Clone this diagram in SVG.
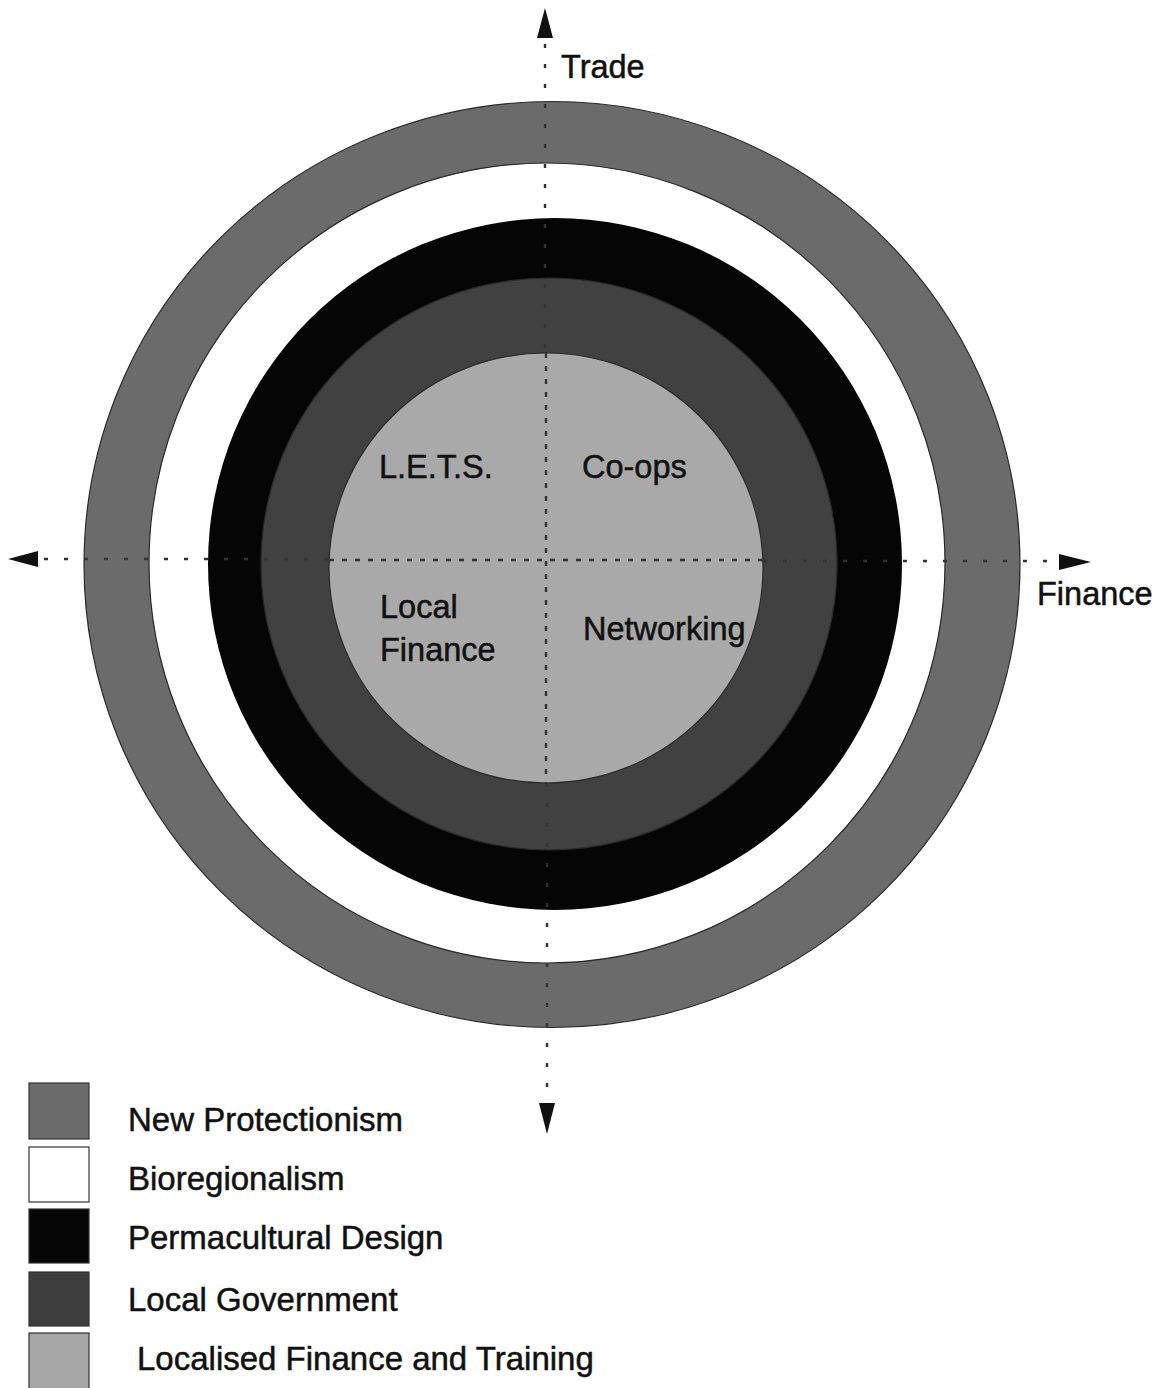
<svg xmlns="http://www.w3.org/2000/svg" width="1165" height="1388" viewBox="0 0 1165 1388">
<style>
text{font-family:"Liberation Sans",Arial,sans-serif;font-size:32.5px;fill:#111;stroke:#111;stroke-width:0.5}
.lg{font-size:33px}
.ring{stroke:#2a2a2a;stroke-width:1.2}
.dot{stroke:#333;stroke-width:2.4;fill:none;stroke-dasharray:4 16}
.dotd{stroke:#333;stroke-width:2.4;fill:none;stroke-dasharray:5 8}
.arr{fill:#111}
.box{stroke:#333;stroke-width:1.2}
</style>
<rect width="1165" height="1388" fill="#fff"/>
<g id="rings">
<ellipse id="new-protectionism" class="ring" cx="552" cy="564.5" rx="468" ry="463" fill="#6b6b6b"/>
<ellipse id="bioregionalism" class="ring" cx="547" cy="563" rx="398" ry="400" fill="#ffffff"/>
<ellipse id="permacultural-design" cx="555" cy="564" rx="347" ry="346" fill="#050505"/>
<ellipse id="local-government" class="ring" cx="549" cy="564" rx="288" ry="286" fill="#414141"/>
<ellipse id="localised-finance" class="ring" cx="546" cy="568" rx="217" ry="215" fill="#a9a9a9"/>
</g>
<g id="connectors">
<line class="dot" x1="545" y1="44" x2="545" y2="353"/>
<line class="dotd" x1="546" y1="353" x2="546" y2="783"/>
<line class="dot" x1="547" y1="783" x2="547" y2="1098"/>
<line class="dot" x1="44" y1="559" x2="329" y2="559"/>
<line class="dotd" x1="329" y1="560" x2="763" y2="560"/>
<line class="dot" x1="763" y1="561" x2="1055" y2="561"/>
<polygon class="arr" points="545,8 537,38 553,38"/>
<polygon class="arr" points="8,559 38,551 38,567"/>
<polygon class="arr" points="1091,562 1059,554 1059,570"/>
<polygon class="arr" points="547,1134 539,1103 555,1103"/>
</g>
<g id="axis-labels">
<text x="561" y="78">Trade</text>
<text x="1037" y="605">Finance</text>
</g>
<g id="quadrant-labels">
<text x="379" y="478">L.E.T.S.</text>
<text x="582" y="478">Co-ops</text>
<text x="380" y="618">Local</text>
<text x="380" y="661">Finance</text>
<text x="583" y="640">Networking</text>
</g>
<g id="legend">
<g id="legend-new-protectionism"><rect class="box" x="29" y="1083" width="60" height="56" fill="#6b6b6b"/><text class="lg" x="128" y="1131">New Protectionism</text></g>
<g id="legend-bioregionalism"><rect class="box" x="29" y="1147" width="60" height="55" fill="#fff"/><text class="lg" x="128" y="1190">Bioregionalism</text></g>
<g id="legend-permacultural"><rect class="box" x="29" y="1209" width="60" height="54" fill="#050505"/><text class="lg" x="128" y="1249">Permacultural Design</text></g>
<g id="legend-local-government"><rect class="box" x="29" y="1272" width="60" height="54" fill="#3e3e3e"/><text class="lg" x="128" y="1311">Local Government</text></g>
<g id="legend-localised"><rect class="box" x="29" y="1333" width="60" height="60" fill="#a6a6a6"/><text class="lg" x="137" y="1370">Localised Finance and Training</text></g>
</g>
</svg>
